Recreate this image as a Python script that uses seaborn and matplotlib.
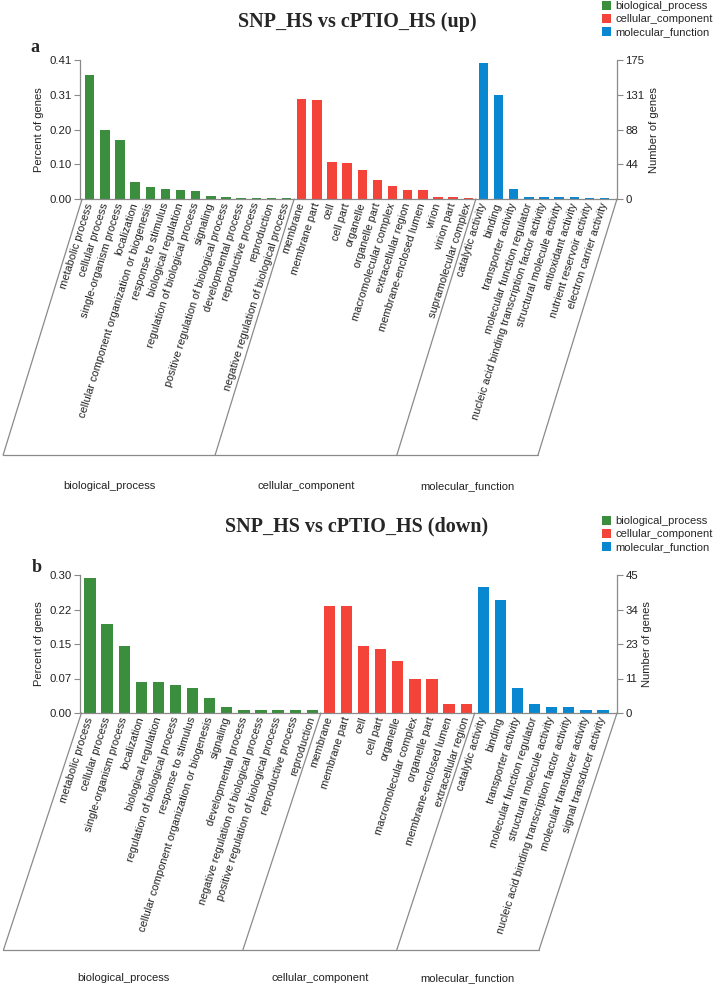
import numpy as np
import pandas as pd
import matplotlib
matplotlib.use("Agg")
import matplotlib.pyplot as plt
import seaborn as sns
from matplotlib.patches import Patch
from matplotlib.lines import Line2D

# GO groups and colours
groups = ["biological_process", "cellular_component", "molecular_function"]
group_colors = ["#3a8e3e", "#f4443a", "#0a87d1"]

# ---- panel a: SNP_HS vs cPTIO_HS (up) ----
bp_up = ["metabolic process", "cellular process", "single-organism process", "localization",
         "cellular component organization or biogenesis", "response to stimulus",
         "biological regulation", "regulation of biological process", "signaling",
         "positive regulation of biological process", "developmental process",
         "reproductive process", "reproduction", "negative regulation of biological process"]
bp_up_n = [156, 87, 74, 22, 15, 12, 11, 10, 4, 2, 1, 1, 1, 1]
cc_up = ["membrane", "membrane part", "cell", "cell part", "organelle", "organelle part",
         "macromolecular complex", "extracellular region", "membrane-enclosed lumen",
         "virion", "virion part", "supramolecular complex"]
cc_up_n = [126, 125, 47, 46, 37, 24, 17, 11, 11, 2, 2, 1]
mf_up = ["catalytic activity", "binding", "transporter activity", "molecular function regulator",
         "nucleic acid binding transcription factor activity", "structural molecule activity",
         "antioxidant activity", "nutrient reservoir activity", "electron carrier activity"]
mf_up_n = [172, 131, 12, 3, 3, 2, 2, 1, 1]
pct_ticks_up = ["0.00", "0.10", "0.20", "0.31", "0.41"]
num_ticks_up = ["0", "44", "88", "131", "175"]

# ---- panel b: SNP_HS vs cPTIO_HS (down) ----
bp_dn = ["metabolic process", "cellular process", "single-organism process", "localization",
         "biological regulation", "regulation of biological process", "response to stimulus",
         "cellular component organization or biogenesis", "signaling", "developmental process",
         "negative regulation of biological process", "positive regulation of biological process",
         "reproductive process", "reproduction"]
bp_dn_n = [44, 29, 22, 10, 10, 9, 8, 5, 2, 1, 1, 1, 1, 1]
cc_dn = ["membrane", "membrane part", "cell", "cell part", "organelle", "macromolecular complex",
         "organelle part", "membrane-enclosed lumen", "extracellular region"]
cc_dn_n = [35, 35, 22, 21, 17, 11, 11, 3, 3]
mf_dn = ["catalytic activity", "binding", "transporter activity", "molecular function regulator",
         "structural molecule activity", "nucleic acid binding transcription factor activity",
         "molecular transducer activity", "signal transducer activity"]
mf_dn_n = [41, 37, 8, 3, 2, 2, 1, 1]
pct_ticks_dn = ["0.00", "0.07", "0.15", "0.22", "0.30"]
num_ticks_dn = ["0", "11", "23", "34", "45"]

SANS = "Liberation Sans"
SERIF = "Liberation Serif"
GRAY = "#8a8a8a"

sns.set_style("white")
plt.rcParams["font.family"] = [SANS, "DejaVu Sans"]

W, H = 714, 992
fig = plt.figure(figsize=(W / 100, H / 100), dpi=100)


def fx(x):
    return x / W


def fy(y):
    return 1 - y / H


def panel(top_px, base_px, slant, label_gap, bar_w, xpad, lists, pct_labels, num_labels,
          title, title_y, letter, letter_xy, legend_top):
    terms, counts, cats, sizes = [], [], [], []
    for g, (t, n) in zip(groups, lists):
        terms += t
        counts += n
        cats += [g] * len(t)
        sizes.append(len(t))
    df = pd.DataFrame({"term": terms, "count": counts, "group": cats})
    ymax = float(num_labels[-1])

    ax = fig.add_axes([fx(80), fy(base_px), fx(617) - fx(80), (base_px - top_px) / H])
    sns.barplot(data=df, x="term", y="count", hue="group", hue_order=groups,
                palette=group_colors, order=terms, dodge=False, width=bar_w,
                saturation=1, linewidth=0, legend=False, ax=ax)
    ax.set_xlim(-xpad[0], len(terms) - 1 + xpad[1])
    ax.set_ylim(0, ymax)
    yt = np.linspace(0, ymax, 5)
    ax.set_yticks(yt)
    ax.set_yticklabels(pct_labels)
    ax.set_xticks(range(len(terms)))
    ax.set_xticklabels(terms, rotation=72.5, ha="right", va="center",
                       rotation_mode="anchor", fontsize=7.9, color="#222222")
    ax.tick_params(axis="x", length=0, pad=3)
    ax.tick_params(axis="y", direction="out", length=4, width=0.8, color=GRAY,
                   labelsize=8.2, labelcolor="#222222", pad=2, left=True)
    ax.set_xlabel("")
    ax.set_ylabel("Percent of genes", fontsize=8, color="#222222", labelpad=4)
    for s in ["top", "right"]:
        ax.spines[s].set_visible(False)
    for s in ["left", "bottom"]:
        ax.spines[s].set_color(GRAY)
        ax.spines[s].set_linewidth(0.9)

    ax2 = ax.twinx()
    ax2.set_ylim(0, ymax)
    ax2.set_yticks(yt)
    ax2.set_yticklabels(num_labels)
    ax2.tick_params(axis="y", direction="out", length=4, width=0.8, color=GRAY,
                    labelsize=8.2, labelcolor="#222222", pad=2, right=True)
    ax2.set_ylabel("Number of genes", fontsize=8, color="#222222", labelpad=3)
    for s in ["top", "left", "bottom"]:
        ax2.spines[s].set_visible(False)
    ax2.spines["right"].set_color(GRAY)
    ax2.spines["right"].set_linewidth(0.9)

    # slanted group frame under the labels
    bounds = [-0.5] + list(np.cumsum(sizes)[:-1] - 0.5) + [len(terms) - 1 + xpad[1]]
    inv = fig.transFigure.inverted()
    bottoms = []
    for b in bounds:
        p0 = ax.transData.transform((b, 0))
        p1 = p0 + np.array(slant)
        (a0, a1) = inv.transform([p0, p1])
        fig.add_artist(Line2D([a0[0], a1[0]], [a0[1], a1[1]], color=GRAY, lw=0.9))
        bottoms.append(a1)
    fig.add_artist(Line2D([bottoms[0][0], bottoms[-1][0]], [bottoms[0][1], bottoms[-1][1]],
                          color=GRAY, lw=0.9))
    for i, g in enumerate(groups):
        xm = (bottoms[i][0] + bottoms[i + 1][0]) / 2
        fig.text(xm, bottoms[i][1] - label_gap / H, g, ha="center", va="center", fontsize=8,
                 color="#222222")

    fig.text(0.5, fy(title_y), title, ha="center", va="center", fontsize=14.5,
             fontweight="bold", family=SERIF)
    fig.text(fx(letter_xy[0]), fy(letter_xy[1]), letter, ha="center", va="center",
             fontsize=13, fontweight="bold", family=SERIF)

    handles = [Patch(facecolor=c, edgecolor="none") for c in group_colors]
    fig.legend(handles, groups, loc="upper left", bbox_to_anchor=(fx(602), fy(legend_top)),
               frameon=False, fontsize=8, handlelength=0.8, handleheight=0.8,
               handletextpad=0.4, labelspacing=0.28, borderpad=0, borderaxespad=0)
    return ax


panel(60.3, 199, (-79, -256), 31, 0.62, (0.64, 0.82),
      [(bp_up, bp_up_n), (cc_up, cc_up_n), (mf_up, mf_up_n)],
      pct_ticks_up, num_ticks_up, "SNP_HS vs cPTIO_HS (up)", 22, "a", (35, 48), 1)

panel(575, 713, (-78, -237), 28, 0.66, (0.585, 0.82),
      [(bp_dn, bp_dn_n), (cc_dn, cc_dn_n), (mf_dn, mf_dn_n)],
      pct_ticks_dn, num_ticks_dn, "SNP_HS vs cPTIO_HS (down)", 526, "b", (37, 567), 516)

fig.savefig("out.png", dpi=100)
